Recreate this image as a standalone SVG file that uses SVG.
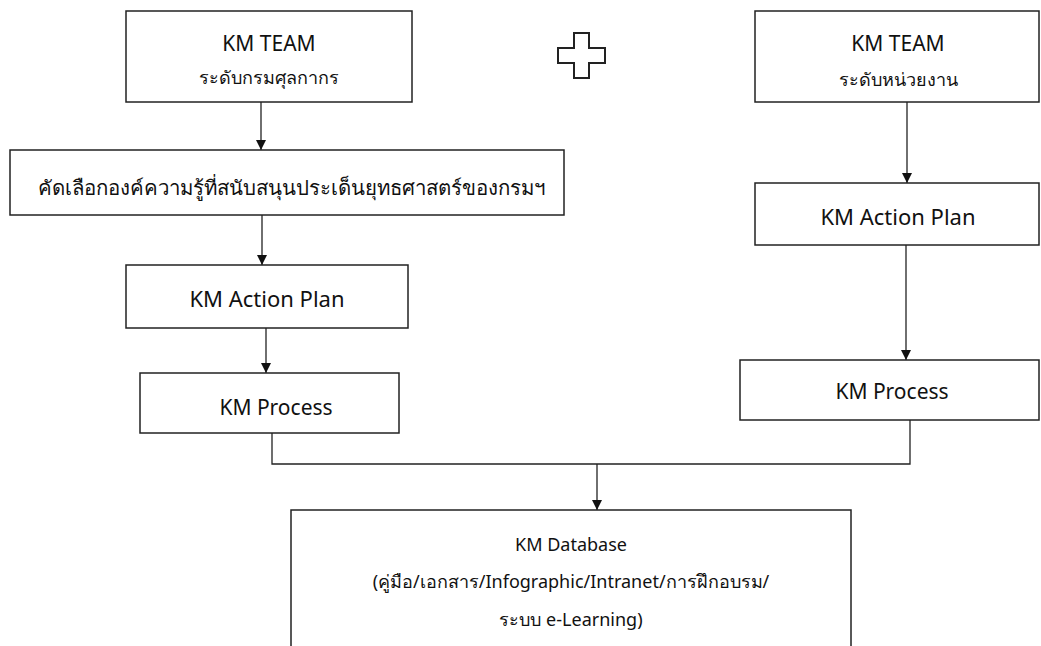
<svg xmlns="http://www.w3.org/2000/svg" width="1041" height="646" viewBox="0 0 1041 646">
<style>
.box{fill:#fff;stroke:#222;stroke-width:1.5}
.t{font-family:"Noto Sans","DejaVu Sans",sans-serif;font-size:18px;fill:#111;text-anchor:middle}
.s20{font-size:20.4px}
.s21{font-size:21px}
.s22{font-size:22px}
.ln{fill:none;stroke:#222;stroke-width:1.3}
</style>
<defs>
<marker id="ah" viewBox="0 0 10 10" refX="10" refY="5" markerWidth="10" markerHeight="10" markerUnits="userSpaceOnUse" orient="auto">
<path d="M0,0 L10,5 L0,10 Z" fill="#111"/>
</marker>
</defs>
<rect width="1041" height="646" fill="#fff"/>
<g id="connectors">
<line class="ln" x1="261" y1="102" x2="261" y2="150" marker-end="url(#ah)"/>
<line class="ln" x1="262" y1="215" x2="262" y2="265" marker-end="url(#ah)"/>
<line class="ln" x1="266" y1="328" x2="266" y2="373" marker-end="url(#ah)"/>
<line class="ln" x1="907" y1="102" x2="907" y2="183" marker-end="url(#ah)"/>
<line class="ln" x1="906" y1="245" x2="906" y2="360" marker-end="url(#ah)"/>
<polyline class="ln" points="272,433 272,464 910,464 910,420"/>
<line class="ln" x1="597" y1="464" x2="597" y2="510" marker-end="url(#ah)"/>
</g>
<g id="team-customs">
<rect class="box" x="126" y="11" width="286" height="91"/>
<text class="t s21" x="269" y="51">KM TEAM</text>
<text class="t" x="269" y="84">ระดับกรมศุลกากร</text>
</g>
<g id="plus">
<path d="M574,33 H589 V48 H605 V63 H589 V78 H574 V63 H558 V48 H574 Z" fill="#fff" stroke="#222" stroke-width="2"/>
</g>
<g id="team-unit">
<rect class="box" x="755" y="11" width="284" height="91"/>
<text class="t s21" x="898" y="51">KM TEAM</text>
<text class="t" x="898" y="86">ระดับหน่วยงาน</text>
</g>
<g id="select-knowledge">
<rect class="box" x="10" y="150" width="554" height="65"/>
<text class="t s20" x="291" y="195">คัดเลือกองค์ความรู้ที่สนับสนุนประเด็นยุทธศาสตร์ของกรมฯ</text>
</g>
<g id="action-plan-left">
<rect class="box" x="126" y="265" width="282" height="63"/>
<text class="t s22" x="267" y="307">KM Action Plan</text>
</g>
<g id="action-plan-right">
<rect class="box" x="755" y="183" width="284" height="62"/>
<text class="t s22" x="898" y="225">KM Action Plan</text>
</g>
<g id="process-left">
<rect class="box" x="140" y="373" width="259" height="60"/>
<text class="t s21" x="276" y="415">KM Process</text>
</g>
<g id="process-right">
<rect class="box" x="740" y="360" width="299" height="60"/>
<text class="t s21" x="892" y="399">KM Process</text>
</g>
<g id="database">
<rect class="box" x="291" y="510" width="560" height="140"/>
<text class="t" x="571" y="551">KM Database</text>
<text class="t" x="571" y="588">(คู่มือ/เอกสาร/Infographic/Intranet/การฝึกอบรม/</text>
<text class="t" x="571" y="626">ระบบ e-Learning)</text>
</g>
</svg>
